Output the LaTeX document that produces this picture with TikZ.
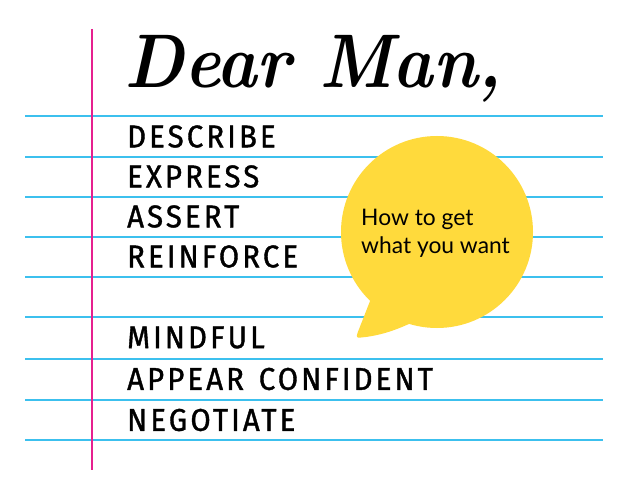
\documentclass[tikz,border=0pt]{standalone}
\usepackage{fontspec}
\newfontfamily\labelfont[FakeStretch=0.93,LetterSpace=10,FakeBold=1.2]{Fira Sans}
\newfontfamily\bubblefont{Lato}
\newfontfamily\titlefont[FakeStretch=0.9]{Latin Modern Roman}
\definecolor{rulecol}{HTML}{3CC0EE}
\definecolor{margincol}{HTML}{E6208F}
\definecolor{bubblecol}{HTML}{FFDA3C}
\tikzset{
  ruleline/.style={draw=rulecol,line width=2pt},
  marginline/.style={draw=margincol,line width=1.5pt},
  bubblefill/.style={fill=bubblecol},
  lbl/.style={anchor=west,inner sep=0pt,font=\labelfont\fontsize{31.5}{31.5}\selectfont,text=black},
  btxt/.style={anchor=base west,inner sep=0pt,font=\bubblefont\fontsize{22.8}{22.8}\selectfont,text=black},
  titletxt/.style={anchor=base west,inner sep=0pt,font=\titlefont\fontsize{76}{76}\selectfont\bfseries\itshape}
}
\begin{document}
\begin{tikzpicture}[x=1pt,y=-1pt]
\useasboundingbox (0,0) rectangle (629,492);
\fill[white] (0,0) rectangle (629,492);
\foreach \yy in {116.5,156.5,196.5,236.5,276.5,316.5,358.5,399.5,440}
  \draw[ruleline] (25,\yy) -- (603,\yy);
\draw[marginline] (92,29) -- (92,470);
% speech bubble
\fill[bubblefill] (437,232) circle (96);
\fill[bubblefill] (372,296) -- (357.5,333) .. controls (356,337.5) and (357,338) .. (361,337.5)
  .. controls (378,336) and (394,331) .. (411,323) -- (425,300) -- cycle;
\node[btxt] (how) at (361,225) {How to get};
\node[btxt] (what) at (361,253) {what you want};
% title
\node[titletxt] (title) at (124,88) {Dear Man,};
% labels
\node[lbl] (describe) at (127,136.5) {DESCRIBE};
\node[lbl] (express) at (127,176.5) {EXPRESS};
\node[lbl] (assert) at (127,216.5) {ASSERT};
\node[lbl] (reinforce) at (127,256.5) {REINFORCE};
\node[lbl] (mindful) at (127,337.5) {MINDFUL};
\node[lbl] (appear) at (127,379) {APPEAR\hspace{4pt} CONFIDENT};
\node[lbl] (negotiate) at (127,420) {NEGOTIATE};
\end{tikzpicture}
\end{document}
